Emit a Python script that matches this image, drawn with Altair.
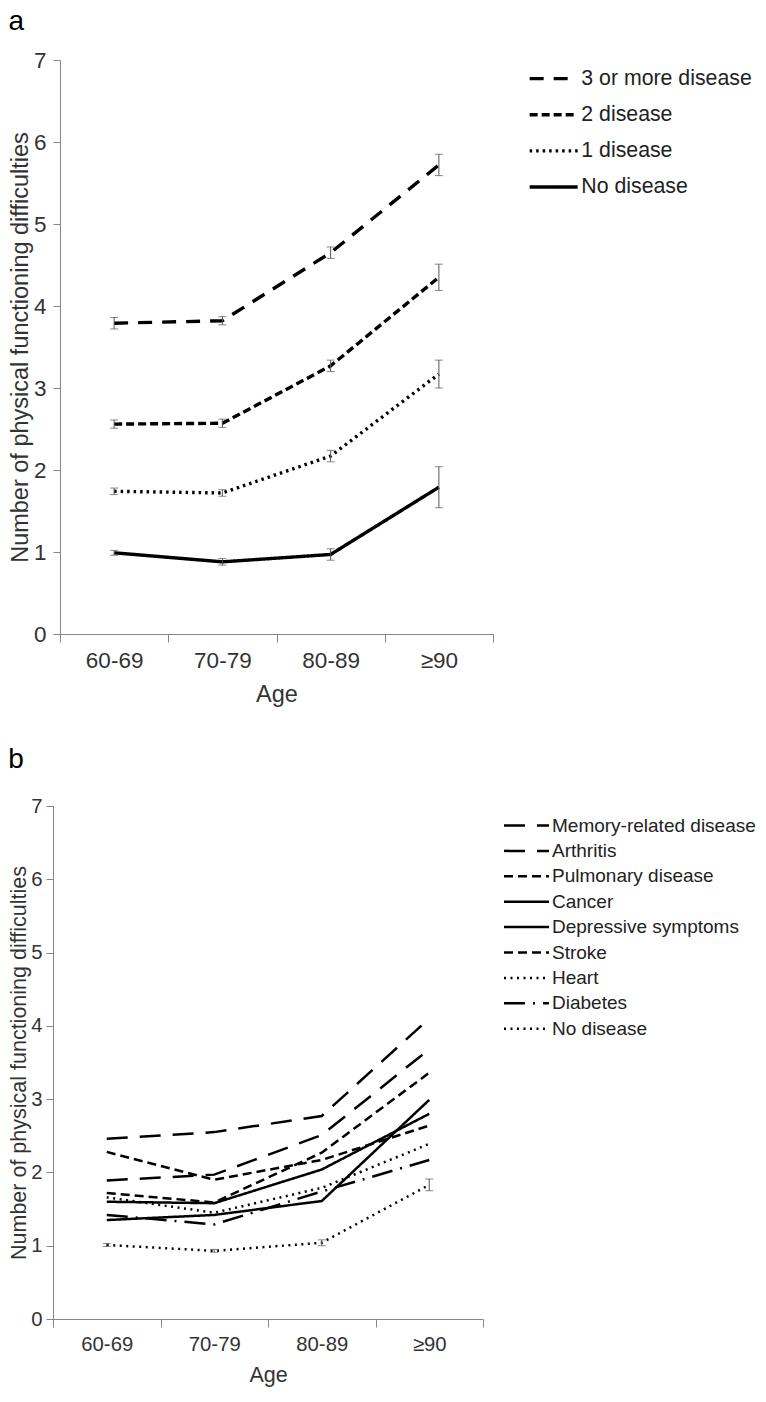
import altair as alt
import pandas as pd

# ---------------- data ----------------
categories = ["60-69", "70-79", "80-89", "≥90"]

# Panel a
series_a = ["3 or more disease", "2 disease", "1 disease", "No disease"]
a_three_plus = [3.79, 3.82, 4.65, 5.72]
a_three_plus_err = [0.07, 0.05, 0.07, 0.13]
a_two = [2.56, 2.57, 3.27, 4.35]
a_two_err = [0.05, 0.05, 0.07, 0.16]
a_one = [1.74, 1.72, 2.17, 3.17]
a_one_err = [0.04, 0.04, 0.07, 0.17]
a_none = [0.99, 0.88, 0.97, 1.79]
a_none_err = [0.03, 0.04, 0.07, 0.25]

# Panel b
series_b = ["Memory-related disease", "Arthritis", "Pulmonary disease", "Cancer",
            "Depressive symptoms", "Stroke", "Heart", "Diabetes", "No disease"]
b_memory = [2.46, 2.55, 2.77, 4.10]
b_arthritis = [1.89, 1.97, 2.51, 3.68]
b_pulmonary = [1.72, 1.59, 2.27, 3.36]
b_cancer = [1.35, 1.42, 1.61, 2.99]
b_depressive = [1.60, 1.58, 2.04, 2.80]
b_stroke = [2.28, 1.90, 2.17, 2.64]
b_heart = [1.66, 1.45, 1.79, 2.39]
b_diabetes = [1.42, 1.29, 1.74, 2.17]
b_none = [1.01, 0.93, 1.04, 1.83]
b_none_err = [0.02, 0.02, 0.04, 0.08]

dash_a = [[14, 10], [8, 4], [2.5, 4], [1, 0]]
dash_b = [[21, 12], [21, 12], [9, 5], [1, 0], [1, 0], [9, 5], [2, 4.5], [21, 8, 2, 8], [2, 4.5]]

Y_TITLE = "Number of physical functioning difficulties"
FONT = "Liberation Sans"
LEGEND_SHAPE = "M-3,0H3"   # long horizontal stroke: 3x the symbol's nominal width


def frame(names, values, errs):
    rows = []
    for name, vals, err in zip(names, values, errs):
        for i, (cat, v) in enumerate(zip(categories, vals)):
            e = err[i] if err is not None else None
            rows.append({
                "series": name, "age": cat, "pos": i + 0.5, "value": v,
                "lo": (v - e) if e is not None else None,
                "hi": (v + e) if e is not None else None,
            })
    return pd.DataFrame(rows)


df_a = frame(series_a, [a_three_plus, a_two, a_one, a_none],
             [a_three_plus_err, a_two_err, a_one_err, a_none_err])
df_b = frame(series_b, [b_memory, b_arthritis, b_pulmonary, b_cancer, b_depressive,
                        b_stroke, b_heart, b_diabetes, b_none],
             [None, None, None, None, None, None, None, None, b_none_err])

label_expr = " : ".join(
    f"datum.value == {i} ? '{c}'" for i, c in enumerate(categories)
) + " : ''"


def panel(df, names, dashes, letter, plot_w, lead, height, tick_fs, title_fs, lw,
          legend_fs, sym_len, legend_x, legend_y, row_pad, title_offset,
          lab_pad_y, title_pad_y, lab_pad_x, title_pad_x):
    band = plot_w / 4.0
    width = plot_w + lead
    xs = alt.Scale(domain=[-lead / band, 4], nice=False, zero=False)
    ys = alt.Scale(domain=[0, 7], nice=False, zero=False)
    x_axis = alt.Axis(values=[0, 1, 2, 3, 4], labelExpr=label_expr,
                      labelOffset=band / 2, labelFlush=False, labelOverlap=False,
                      labelFontSize=tick_fs, titleFontSize=title_fs, title="Age",
                      grid=False, tickSize=8, labelPadding=lab_pad_x,
                      titlePadding=title_pad_x, titleX=lead + plot_w / 2)
    y_axis = alt.Axis(values=list(range(8)), format="d", labelFontSize=tick_fs,
                      titleFontSize=title_fs, title=Y_TITLE, grid=False,
                      tickSize=7, labelPadding=lab_pad_y, titlePadding=title_pad_y,
                      offset=-lead)
    sym = sym_len / 3.0
    lines = alt.Chart(df).mark_line(color="black", strokeWidth=lw).encode(
        x=alt.X("pos:Q", scale=xs, axis=x_axis),
        y=alt.Y("value:Q", scale=ys, axis=y_axis, title=Y_TITLE),
        strokeDash=alt.StrokeDash(
            "series:N",
            scale=alt.Scale(domain=names, range=dashes),
            legend=alt.Legend(
                orient="none", legendX=legend_x, legendY=legend_y, title=None,
                symbolType=LEGEND_SHAPE, symbolSize=sym * sym,
                symbolStrokeWidth=lw, symbolStrokeColor="black",
                labelFontSize=legend_fs, labelFont=FONT, labelColor="#222222",
                labelOffset=sym + 1, rowPadding=row_pad, labelLimit=400,
            ),
        ),
        order=alt.Order("pos:Q"),
    )
    err_df = df.dropna(subset=["lo"])
    base = alt.Chart(err_df)
    rule = base.mark_rule(color="#555555", strokeWidth=1).encode(
        x=alt.X("pos:Q", scale=xs),
        y=alt.Y("lo:Q", scale=ys, title=Y_TITLE),
        y2="hi:Q",
    )
    cap_lo = base.mark_tick(orient="horizontal", size=8, thickness=1, color="#555555").encode(
        x=alt.X("pos:Q", scale=xs), y=alt.Y("lo:Q", scale=ys, title=Y_TITLE))
    cap_hi = base.mark_tick(orient="horizontal", size=8, thickness=1, color="#555555").encode(
        x=alt.X("pos:Q", scale=xs), y=alt.Y("hi:Q", scale=ys, title=Y_TITLE))

    return alt.layer(lines, rule, cap_lo, cap_hi).properties(
        width=width, height=height,
        title=alt.TitleParams(letter, anchor="start", fontSize=28, fontWeight="normal",
                              font=FONT, color="black", offset=title_offset),
    )


# panel a: plot area starts 7px right of panel b's (y axis moved inward)
pa = panel(df_a, series_a, dash_a, "a", 433, 7, 574, 22.5, 23.5, 3.4,
           21.3, 48, 490, 8, 14.1, 12.8, 7, 1, 7, 11)
pb = panel(df_b, series_b, dash_b, "b", 430, 0, 513, 20.3, 21.5, 2.5,
           19.0, 45, 464, 10, 5.4, 22, 4, 0.5, 7.5, 10)

chart = alt.vconcat(pa, pb, spacing=40).resolve_scale(
    strokeDash="independent"
).resolve_legend(strokeDash="independent").configure(
    font=FONT,
).configure_view(stroke=None).configure_axis(
    labelFont=FONT, titleFont=FONT, labelColor="#333333", titleColor="#333333",
    domainColor="#868686", tickColor="#868686", titleFontWeight="normal",
).properties(padding=0)

chart.save("out.html", embed_options={"renderer": "svg", "actions": False})
